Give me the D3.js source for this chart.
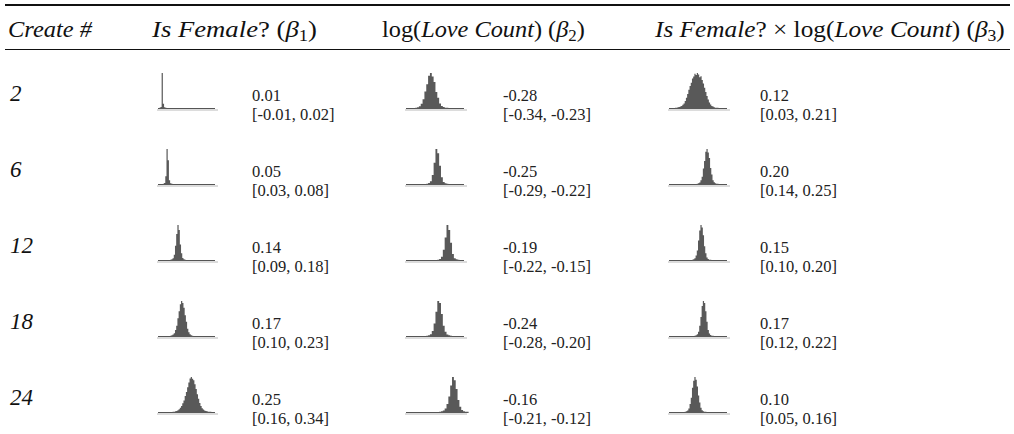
<!DOCTYPE html>
<meta charset="utf-8">
<html>
<head>
  <style>
    body { margin: 0; background: #fff; }
    svg { display: block; }
    text { font-family: "Liberation Serif", "DejaVu Serif", serif; fill: #111; }
    .head { font-size: 23px; }
    .rowlab { font-size: 23px; font-style: italic; }
    .num { font-size: 16.5px; fill: #222; }
  </style>
</head>
<body>
<svg></svg>
<script src="https://d3js.org/d3.v7.min.js"></script>
<script>
  // rows of the table
  const rows = ["2", "6", "12", "18", "24"];

  // posterior means and 95% intervals, one entry per column (beta1, beta2, beta3)
  const means = [
    [0.01, -0.28, 0.12],
    [0.05, -0.25, 0.20],
    [0.14, -0.19, 0.15],
    [0.17, -0.24, 0.17],
    [0.25, -0.16, 0.10]
  ];
  const lower = [
    [-0.01, -0.34, 0.03],
    [0.03, -0.29, 0.14],
    [0.09, -0.22, 0.10],
    [0.10, -0.28, 0.12],
    [0.16, -0.21, 0.05]
  ];
  const upper = [
    [0.02, -0.23, 0.21],
    [0.08, -0.22, 0.25],
    [0.18, -0.15, 0.20],
    [0.23, -0.20, 0.22],
    [0.34, -0.12, 0.16]
  ];

  // histogram value range for each column and bin width
  const colDomains = [[-0.03, 0.44], [-0.42, -0.105], [-0.12, 0.36]];
  const binWidth = 0.01;

  // posterior sample histograms: first bin start value and bin counts
  const hists = [
    [
      { start: -0.02, counts: [1, 3, 100, 12, 2, 1] },
      { start: -0.37, counts: [1, 2, 5, 12, 25, 47, 68, 92, 100, 90, 74, 46, 29, 13, 6, 3, 1, 1] },
      { start: -0.07, counts: [1, 1, 2, 3, 4, 6, 9, 13, 20, 29, 40, 52, 63, 72, 84, 90, 98, 94, 100, 96, 88, 91, 80, 70, 58, 46, 34, 24, 16, 10, 6, 4, 2, 1, 1, 1] }
    ],
    [
      { start: 0.01, counts: [1, 3, 22, 100, 68, 11, 2, 1] },
      { start: -0.31, counts: [1, 3, 8, 26, 61, 100, 88, 52, 19, 6, 2, 1] },
      { start: 0.11, counts: [1, 2, 4, 11, 21, 44, 66, 92, 100, 90, 74, 46, 27, 11, 5, 2, 1, 1] }
    ],
    [
      { start: 0.07, counts: [1, 2, 5, 15, 41, 74, 100, 86, 44, 19, 6, 2, 1] },
      { start: -0.25, counts: [1, 3, 9, 29, 64, 100, 86, 49, 17, 5, 2, 1] },
      { start: 0.07, counts: [1, 2, 5, 13, 27, 56, 84, 100, 93, 71, 39, 19, 7, 3, 1, 1] }
    ],
    [
      { start: 0.07, counts: [1, 2, 4, 8, 17, 29, 51, 71, 91, 100, 94, 81, 59, 41, 21, 11, 5, 2, 1] },
      { start: -0.31, counts: [1, 2, 5, 14, 36, 69, 100, 94, 63, 29, 12, 4, 2, 1] },
      { start: 0.09, counts: [1, 2, 5, 12, 29, 54, 86, 100, 94, 71, 41, 17, 7, 3, 1, 1] }
    ],
    [
      { start: 0.09, counts: [1, 1, 2, 3, 5, 8, 12, 17, 25, 33, 46, 57, 71, 84, 96, 100, 95, 91, 79, 66, 51, 38, 26, 17, 11, 7, 4, 3, 2, 1, 1, 1] },
      { start: -0.24, counts: [1, 2, 4, 10, 23, 44, 76, 100, 91, 66, 34, 15, 6, 2, 1, 1] },
      { start: 0.01, counts: [1, 2, 4, 10, 23, 41, 69, 89, 100, 92, 73, 47, 27, 12, 5, 2, 1, 1] }
    ]
  ];

  const width = 1014, height = 434;
  const svg = d3.select("svg").attr("width", width).attr("height", height);

  // table rules
  const ruleX = [5, 1010];
  svg.append("line").attr("x1", ruleX[0]).attr("x2", ruleX[1]).attr("y1", 5).attr("y2", 5)
    .attr("stroke", "#111").attr("stroke-width", 2);
  svg.append("line").attr("x1", ruleX[0]).attr("x2", ruleX[1]).attr("y1", 49.5).attr("y2", 49.5)
    .attr("stroke", "#111").attr("stroke-width", 1);

  // header; widened slightly to the original typeface
  const headY = 37;
  const head = svg.append("g").attr("class", "head");
  function headCell(x, x2, parts) {
    const t = head.append("text").attr("x", 0).attr("y", headY);
    parts.forEach(p => {
      const ts = t.append("tspan").text(p[0]);
      if (p[1] === "i") ts.style("font-style", "italic");
      if (p[1] === "sub") ts.attr("baseline-shift", "-25%").style("font-size", "16px");
    });
    const w = t.node().getComputedTextLength();
    t.attr("transform", `translate(${x},0) scale(${(x2 - x) / w},1)`);
  }
  headCell(8, 92, [["Create #", "i"]]);
  headCell(152, 317, [["Is Female", "i"], ["? ("], ["β", "i"], ["1", "sub"], [")"]]);
  headCell(382, 585, [["log("], ["Love Count", "i"], [") ("], ["β", "i"], ["2", "sub"], [")"]]);
  headCell(655, 1005, [["Is Female", "i"], ["? × log("], ["Love Count", "i"], [") ("], ["β", "i"], ["3", "sub"], [")"]]);

  // layout
  const y = d3.scalePoint().domain(rows).range([108, 412]);
  const histX = [[158, 215], [406, 464], [669, 727]];
  const numX = [252, 503, 760];
  const histH = 35;
  const fmt = v => d3.format(".2f")(v).replace("−", "-");

  rows.forEach((r, i) => {
    const base = y(r);
    svg.append("text").attr("class", "rowlab").attr("x", 10).attr("y", base - 7).text(r);

    for (let c = 0; c < 3; c++) {
      const h = hists[i][c];
      const x = d3.scaleLinear().domain(colDomains[c]).range(histX[c]);
      const hy = d3.scaleLinear().domain([0, d3.max(h.counts)]).range([base, base - histH]);
      const g = svg.append("g");

      // light axis line and dark baseline
      g.append("line").attr("x1", histX[c][0] - 1).attr("x2", histX[c][1] + 3)
        .attr("y1", base + 2).attr("y2", base + 2).attr("stroke", "#d0d0d0").attr("stroke-width", 1.5);
      g.append("line").attr("x1", histX[c][0]).attr("x2", histX[c][1])
        .attr("y1", base + 0.5).attr("y2", base + 0.5).attr("stroke", "#555").attr("stroke-width", 1);

      const bins = h.counts.map((d, k) => ({ v: h.start + k * binWidth, n: d }));
      bins.push({ v: h.start + h.counts.length * binWidth, n: 0 });
      const area = d3.area().curve(d3.curveStepAfter)
        .x(d => x(d.v)).y0(base + 1).y1(d => hy(d.n));
      g.append("path").datum(bins).attr("d", area).attr("fill", "#595959");

      svg.append("text").attr("class", "num").attr("x", numX[c]).attr("y", base - 7)
        .text(fmt(means[i][c]));
      svg.append("text").attr("class", "num").attr("x", numX[c]).attr("y", base + 12)
        .text(`[${fmt(lower[i][c])}, ${fmt(upper[i][c])}]`);
    }
  });
</script>
</body>
</html>
